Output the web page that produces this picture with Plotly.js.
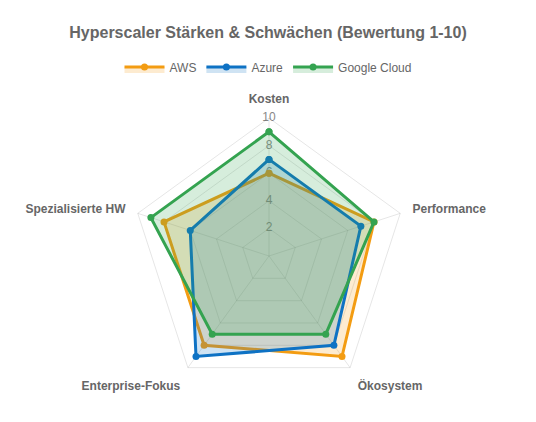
<!DOCTYPE html>
<html>
<head>
<meta charset="utf-8">
<script src="https://cdn.plot.ly/plotly-3.0.1.min.js"></script>
<style>
  html, body { margin: 0; padding: 0; background: #fff; }
  #chart { width: 536px; height: 422px; }
</style>
</head>
<body>
<div id="chart"></div>
<script>
// Categories (clockwise from top)
const categories = ['Kosten', 'Performance', 'Ökosystem', 'Enterprise-Fokus', 'Spezialisierte HW'];

// Ratings 1-10
const awsValues = [6, 8, 9, 8, 8];
const azureValues = [7, 7, 8, 9, 6];
const googleValues = [9, 8, 7, 7, 9];

// Radial ticks
const radialTicks = [2, 4, 6, 8, 10];

const fontFamily = '"Liberation Sans", Arial, Helvetica, sans-serif';

function closeLoop(arr) {
  return arr.concat([arr[0]]);
}

function makeTrace(name, values, color, fill) {
  return {
    type: 'scatterpolar',
    name: name,
    r: closeLoop(values),
    theta: closeLoop(categories),
    mode: 'lines+markers',
    fill: 'toself',
    fillcolor: fill,
    line: { color: color, width: 3 },
    marker: { color: color, size: 7 },
    hoverinfo: 'skip',
  };
}

// Tick labels drawn on the Kosten spoke, like chart.js
var tickTrace = {
  type: 'scatterpolar',
  r: radialTicks,
  theta: radialTicks.map(() => categories[0]),
  mode: 'text',
  text: radialTicks.map(String),
  textfont: { family: fontFamily, size: 12, color: '#888' },
  showlegend: false,
  hoverinfo: 'skip',
};

var data = [
  tickTrace,
  makeTrace('AWS', awsValues, '#F39C12', 'rgba(243, 156, 18, 0.2)'),
  makeTrace('Azure', azureValues, '#0E72C4', 'rgba(14, 114, 196, 0.2)'),
  makeTrace('Google Cloud', googleValues, '#34A350', 'rgba(52, 163, 80, 0.2)'),
];

var layout = {
  width: 536,
  height: 422,
  margin: { t: 0, b: 0, l: 0, r: 0 },
  paper_bgcolor: '#fff',
  font: { family: fontFamily, size: 12, color: '#666' },
  title: {
    text: '<b>Hyperscaler Stärken & Schwächen (Bewertung 1-10)</b>',
    font: { family: fontFamily, size: 16, color: '#666' },
    x: 0.5,
    xanchor: 'center',
    y: 1 - 32 / 422,
    yanchor: 'middle',
  },
  showlegend: true,
  legend: {
    orientation: 'h',
    x: 0.5,
    xanchor: 'center',
    y: 1 - 67 / 422,
    yanchor: 'middle',
    font: { family: fontFamily, size: 12, color: '#666' },
    itemwidth: 40,
    traceorder: 'normal',
  },
  polar: {
    domain: {
      x: [(269 - 138) / 536, (269 + 138) / 536],
      y: [(166 - 138) / 422, (166 + 138) / 422],
    },
    bgcolor: 'rgba(0,0,0,0)',
    gridshape: 'linear',
    radialaxis: {
      range: [0, 10],
      tickvals: radialTicks,
      showticklabels: false,
      ticks: '',
      showline: false,
      gridcolor: 'rgba(0,0,0,0.1)',
      angle: 90,
    },
    angularaxis: {
      direction: 'clockwise',
      rotation: 90,
      // invisible ticks push the point labels outward
      ticks: 'outside',
      ticklen: 10,
      tickcolor: 'rgba(0,0,0,0)',
      showline: true,
      linecolor: 'rgba(0,0,0,0.1)',
      gridcolor: 'rgba(0,0,0,0.1)',
      tickfont: { family: fontFamily, size: 12, color: '#666', weight: 'bold' },
    },
  },
};

var config = { displayModeBar: false, staticPlot: true };

Plotly.newPlot('chart', data, layout, config);
</script>
</body>
</html>
